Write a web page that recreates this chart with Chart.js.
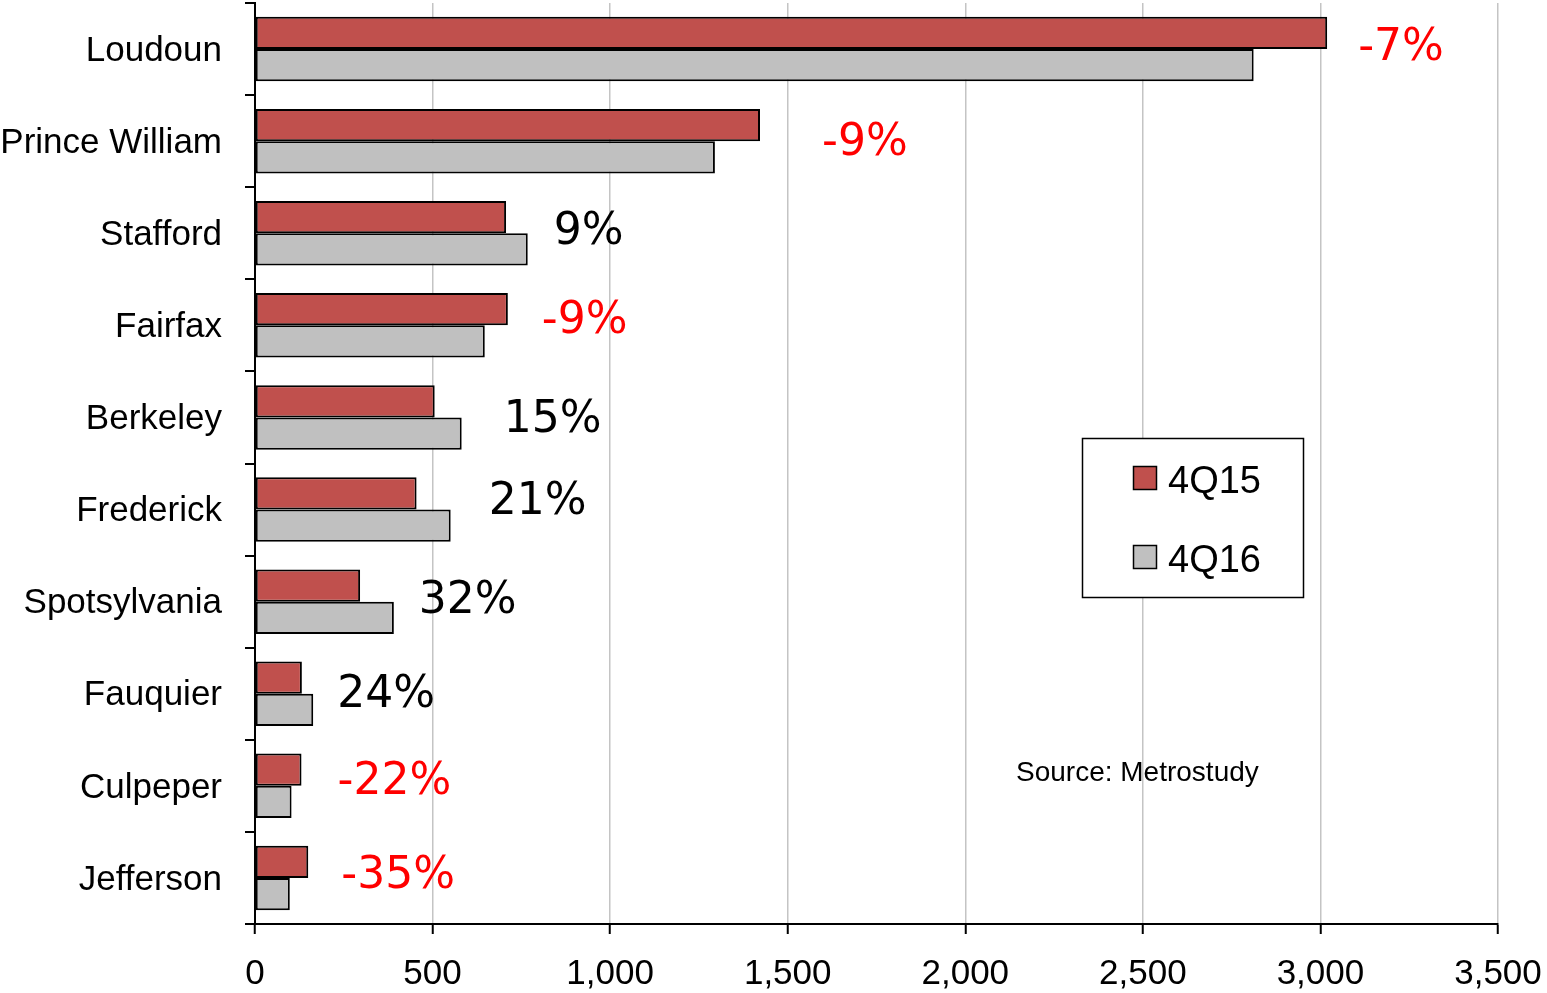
<!DOCTYPE html>
<html><head><meta charset="utf-8">
<script src="https://cdn.jsdelivr.net/npm/chart.js@4"></script>
<style>html,body{margin:0;padding:0;background:#fff;overflow:hidden}#wrap{width:1547px;height:993px;position:relative}</style>
</head><body><div id="wrap"><canvas id="c" width="1547" height="993"></canvas></div>
<script>
const categories = ['Loudoun','Prince William','Stafford','Fairfax','Berkeley','Frederick','Spotsylvania','Fauquier','Culpeper','Jefferson'];
const series4Q15 = [3019,1422,707,712,506,455,296,132,131,150];
const series4Q16 = [2812,1295,768,647,582,551,391,164,103,98];
const changeLabels = ['-7%','-9%','9%','-9%','15%','21%','32%','24%','-22%','-35%'];
const xTicks = [0,500,1000,1500,2000,2500,3000,3500];
const seriesNames = ['4Q15','4Q16'];
const sourceNote = 'Source: Metrostudy';

const FONT = '"Liberation Sans", Arial, sans-serif';

const changeLabelPlugin = {
  id: 'changeLabels',
  afterDatasetsDraw(chart, args, opts) {
    const ctx = chart.ctx, xs = chart.scales.x, ys = chart.scales.y;
    ctx.save();
    ctx.font = opts.font;
    ctx.textAlign = 'left';
    ctx.textBaseline = 'middle';
    changeLabels.forEach((t, i) => {
      const maxV = Math.max(series4Q15[i], series4Q16[i]);
      const px = xs.getPixelForValue(maxV) + opts.dx[i];
      const py = ys.getPixelForValue(i) + opts.dy[i] + opts.baseShift;
      ctx.fillStyle = t.trim().startsWith('-') ? '#ff0000' : '#000000';
      ctx.fillText(t, px, py);
    });
    ctx.restore();
  }
};

const boxLegendPlugin = {
  id: 'boxLegend',
  afterDraw(chart, args, opts) {
    const ctx = chart.ctx;
    ctx.save();
    ctx.fillStyle = '#fff';
    ctx.fillRect(opts.x, opts.y, opts.w, opts.h);
    ctx.strokeStyle = '#000';
    ctx.lineWidth = 1.5;
    ctx.strokeRect(opts.x, opts.y, opts.w, opts.h);
    ctx.font = opts.font;
    ctx.textAlign = 'left';
    ctx.textBaseline = 'middle';
    chart.data.datasets.forEach((ds, i) => {
      const cy = opts.rowY[i];
      ctx.fillStyle = ds.backgroundColor;
      ctx.fillRect(opts.boxX, cy - opts.box / 2, opts.box, opts.box);
      ctx.strokeStyle = '#000';
      ctx.lineWidth = 1.5;
      ctx.strokeRect(opts.boxX, cy - opts.box / 2, opts.box, opts.box);
      ctx.fillStyle = '#000';
      ctx.fillText(ds.label, opts.textX, cy + 5);
    });
    ctx.font = opts.noteFont;
    ctx.fillStyle = '#000';
    ctx.fillText(sourceNote, opts.noteX, opts.noteY);
    ctx.restore();
  }
};

new Chart(document.getElementById('c'), {
  type: 'bar',
  data: {
    labels: categories,
    datasets: [
      { label: seriesNames[0], data: series4Q15, backgroundColor: '#C0504D', borderColor: '#000', borderWidth: 2, borderSkipped: false, categoryPercentage: 0.7, barPercentage: 1.0 },
      { label: seriesNames[1], data: series4Q16, backgroundColor: '#C0C0C0', borderColor: '#000', borderWidth: 2, borderSkipped: false, categoryPercentage: 0.7, barPercentage: 1.0 }
    ]
  },
  options: {
    indexAxis: 'y',
    responsive: false,
    devicePixelRatio: 1,
    animation: false,
    layout: { padding: { top: 3, right: 49, bottom: 0, left: 0 } },
    plugins: {
      legend: { display: false },
      tooltip: { enabled: false },
      changeLabels: {
        font: '44px "DejaVu Sans", sans-serif',
        baseShift: 3.5,
        dx: [31, 62, 26, 34, 42, 38, 25, 24, 36, 33],
        dy: [-3.5, -1.5, -4, -7.5, -0.5, -10, -4, -2, -6.5, -4.5]
      },
      boxLegend: {
        x: 1082.5, y: 438.5, w: 221, h: 159,
        boxX: 1133.5, box: 23, textX: 1168, rowY: [478, 557],
        font: '38px ' + FONT,
        noteFont: '28px ' + FONT, noteX: 1016, noteY: 773
      }
    },
    scales: {
      x: {
        type: 'linear',
        min: 0, max: 3500,
        afterBuildTicks(s) { s.ticks = xTicks.map(v => ({ value: v })); },
        afterFit(s) { s.height = 69; s.paddingLeft = 0; s.paddingRight = 0; },
        grid: {
          color: (c) => (c.tick && c.tick.value === 0) ? 'rgba(0,0,0,0)' : '#c4c4c4',
          lineWidth: 1.5,
          tickColor: '#000',
          tickWidth: 2,
          tickLength: 10,
          drawOnChartArea: true
        },
        border: { color: '#000', width: 2 },
        ticks: {
          font: { family: FONT, size: 35 },
          color: '#000',
          padding: 19,
          maxRotation: 0,
          callback: (v) => Number(v).toLocaleString('en-US')
        }
      },
      y: {
        afterFit(s) { s.width = 255; s.paddingTop = 0; s.paddingBottom = 0; },
        grid: {
          drawOnChartArea: false,
          color: '#000',
          lineWidth: 2,
          tickLength: 10
        },
        border: { color: '#000', width: 2 },
        ticks: {
          font: { family: FONT, size: 35 },
          color: '#000',
          padding: 23,
          labelOffset: 2
        }
      }
    }
  },
  plugins: [changeLabelPlugin, boxLegendPlugin]
});
</script>
</body></html>
